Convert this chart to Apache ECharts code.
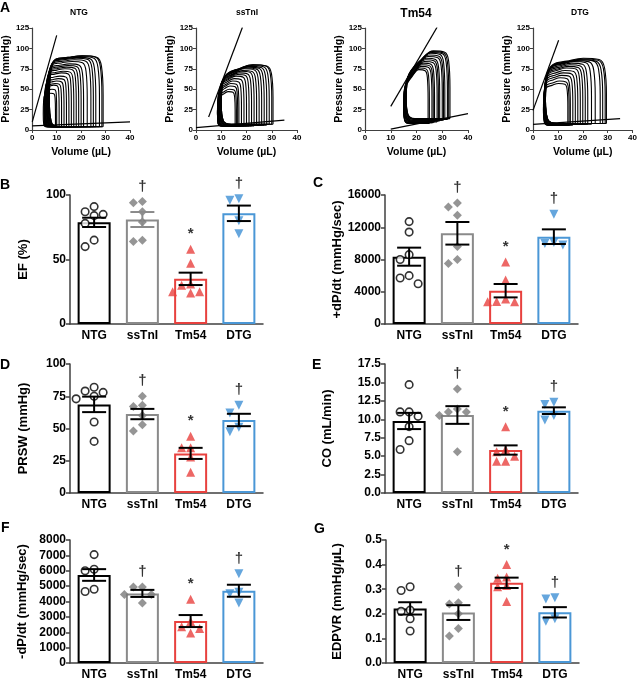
<!DOCTYPE html>
<html><head><meta charset="utf-8">
<script src="https://cdn.jsdelivr.net/npm/echarts/dist/echarts.min.js"></script>
<style>html,body{margin:0;padding:0;background:#fff}#c{width:640px;height:681px}</style>
</head><body><div id="c"></div>
<script>
// ---------------- DATA ----------------
const groups = ['NTG', 'ssTnI', 'Tm54', 'DTG'];
const pvTitles = ['NTG', 'ssTnI', 'Tm54', 'DTG'];
const pvVolTicks = [0, 10, 20, 30, 40];
const pvPresTicks = [0, 25, 50, 75, 100, 125];

// PV loops (per loop: end-diastolic volume, end-systolic volume, peak pressure, bottom pressure)
const ntgEDV = [29, 28.5, 27.5, 26, 25, 24, 22.5, 21, 20, 19, 18, 17, 16, 15, 14, 13, 12, 11, 10, 9.5];
const ntgESV = [7, 7, 6.8, 6.6, 6.5, 6.3, 6.2, 6, 6, 5.8, 5.8, 5.5, 5.5, 5.3, 5.2, 5, 5, 5, 4.8, 4.5];
const ntgPtop = [91, 91, 90, 89, 88, 86, 84, 81, 79, 77, 75, 72, 70, 66, 63, 60, 57, 55, 50, 45];
const ntgPbot = [4, 4, 4, 4, 4, 4, 4, 4, 4, 4, 4, 4, 4, 4, 4, 4, 4, 4, 4, 4];
const ntgESPVR = [[0, 10], [10, 116]];
const ntgEDPVR = [[0, 5], [40, 10]];

const sstEDV = [30.5, 30, 29, 28, 27, 26, 25, 24, 23, 22, 21, 20, 19, 18, 17, 16.5, 16, 15.5];
const sstESV = [10, 10, 10, 9.8, 9.8, 9.5, 9.5, 9.3, 9.3, 9, 9, 9, 8.8, 8.8, 8.5, 8.5, 8.5, 8.5];
const sstPtop = [80, 80, 79, 78, 77, 76, 75, 73, 72, 70, 68, 66, 63, 60, 57, 54, 50, 47];
const sstPbot = [7, 7, 7, 6, 6, 6, 6, 6, 5, 5, 5, 5, 5, 5, 5, 5, 5, 5];
const sstESPVR = [[5, 16], [18.4, 126]];
const sstEDPVR = [[0, 3], [35, 12]];

const tmEDV = [33, 32.5, 32, 31, 30.5, 30, 29, 28.5, 28, 27, 26.5, 26, 25, 24.5];
const tmESV = [16, 16, 16, 15.8, 15.8, 15.5, 15.5, 15.5, 15.3, 15.3, 15, 15, 15, 15];
const tmPtop = [97, 96, 95, 94, 92, 90, 88, 86, 84, 82, 80, 78, 76, 74];
const tmPbot = [14, 14, 13, 13, 12, 12, 11, 11, 10, 10, 9, 9, 8, 8];
const tmESPVR = [[10, 29], [28, 126]];
const tmEDPVR = [[10, 1], [40, 20]];

const dtgEDV = [29.5, 29, 28, 27, 25, 23.5, 22, 21, 20, 19, 18, 17, 16, 15, 14.5, 14];
const dtgESV = [5, 5, 5, 5, 4.8, 4.8, 4.6, 4.6, 4.5, 4.5, 4.4, 4.4, 4.3, 4.3, 4.2, 4.2];
const dtgPtop = [88, 87, 86, 86, 85, 84, 82, 80, 78, 76, 73, 70, 67, 64, 60, 57];
const dtgPbot = [8, 8, 8, 8, 8, 7, 7, 7, 7, 7, 7, 7, 6, 6, 6, 6];
const dtgESPVR = [[0, 24], [10.3, 110]];
const dtgEDPVR = [[0, 7], [35, 14]];

// B: EF (%)
const efTicks = [0, 50, 100];
const efMean = [78.8, 81, 35, 85.8];
const efSem = [3.6, 5.8, 4.8, 6.0];
const efPoints = [[91, 87, 85, 84, 78, 65, 60], [95, 94, 87, 79, 65, 64], [58, 47, 31, 30, 25, 25, 24], [97, 96, 80, 70]];
// C: +dP/dt
const dpTicks = [0, 4000, 8000, 12000, 16000];
const dpMean = [8350, 11250, 4130, 10830];
const dpSem = [1120, 1400, 830, 910];
const dpPoints = [[12700, 11400, 8600, 8000, 6000, 5700, 5000], [15000, 14500, 13500, 9600, 8000, 7500], [7700, 5450, 3100, 2800, 2750, 2750], [13600, 10100, 10000, 9800]];
// D: PRSW
const prTicks = [0, 25, 50, 75, 100];
const prMean = [68.7, 61.2, 30.7, 56.6];
const prSem = [6, 4, 4.3, 4.8];
const prPoints = [[82, 79, 78, 75, 73, 55, 40], [75, 68, 67, 60, 53, 48], [44, 35, 35, 28, 16], [68, 62, 51, 47.5]];
// E: CO
const coTicks = [0, 2.5, 5, 7.5, 10, 12.5, 15, 17.5];
const coMean = [9.77, 10.58, 5.83, 11.17];
const coSem = [1.1, 1.2, 0.63, 0.45];
const coPoints = [[14.7, 11.0, 11.0, 10.4, 9.0, 7.1, 5.9], [14.1, 11.4, 11.0, 11.0, 10.5, 5.6], [9.0, 5.9, 5.6, 5.0, 4.3, 4.3], [12.3, 12.0, 10.5, 9.9]];
// F: -dP/dt
const dnTicks = [0, 1000, 2000, 3000, 4000, 5000, 6000, 7000, 8000];
const dnMean = [5725, 4526, 2728, 4700];
const dnSem = [380, 230, 390, 390];
const dnPoints = [[7050, 6100, 6000, 4800, 4650], [4950, 4950, 4450, 4450, 3900], [4150, 2700, 2350, 2250, 1950], [5800, 4600, 4500, 3900]];
// G: EDPVR
const edTicks = [0, 0.1, 0.2, 0.3, 0.4, 0.5];
const edMean = [0.222, 0.205, 0.326, 0.206];
const edSem = [0.025, 0.03, 0.021, 0.021];
const edPoints = [[0.31, 0.295, 0.215, 0.21, 0.18, 0.13], [0.31, 0.245, 0.24, 0.2, 0.14, 0.11], [0.40, 0.35, 0.345, 0.315, 0.31, 0.25], [0.265, 0.26, 0.18, 0.17]];

const sigMarks = ['', '\u2020', '*', '\u2020'];

// ---------------- STYLE / LAYOUT ----------------
const FONT = 'Liberation Sans, Arial, sans-serif';
const BAR_COLORS = ['#000000', '#8a8a8a', '#e8413e', '#4a97d6'];
const MARK_COLORS = ['#000000', '#7a7a7a', '#e8413e', '#3f90d4'];
const SYMBOLS = ['circle', 'diamond', 'triangle', 'triangle'];
const AXIS_COLOR = '#404040';

// loop outline template; k = relative height of the end-systolic (top-left) corner
function loopShape(k) {
  return [[1, 0], [1, 0.45], [0.97, 0.85], [0.88, 0.98], [0.62, 1], [0.35, 1 - (1 - k) * 0.45],
    [0.12, k], [0.03, k * 0.82], [0, k * 0.4], [0.04, 0.06], [0.2, 0], [0.6, 0], [1, 0]];
}

const grids = [], xAxes = [], yAxes = [], series = [], graphics = [];

function pvPanel(box, loops, espvr, edpvr, k) {
  const g = grids.length;
  grids.push({left: box[0], top: box[1], width: box[2], height: box[3]});
  const xi = xAxes.length, yi = yAxes.length;
  xAxes.push({
    type: 'value', gridIndex: g, min: pvVolTicks[0], max: pvVolTicks[pvVolTicks.length - 1],
    interval: pvVolTicks[1] - pvVolTicks[0], splitLine: {show: false},
    axisLine: {onZero: false, lineStyle: {color: AXIS_COLOR, width: 1.2}}, axisTick: {length: 3, lineStyle: {color: AXIS_COLOR}},
    axisLabel: {color: '#000', fontWeight: 'bold', fontSize: 8, margin: 4, fontFamily: FONT},
    name: 'Volume (\u00b5L)', nameLocation: 'middle', nameGap: 17,
    nameTextStyle: {color: '#000', fontWeight: 'bold', fontSize: 10.5, fontFamily: FONT}
  });
  yAxes.push({
    type: 'value', gridIndex: g, min: pvPresTicks[0], max: pvPresTicks[pvPresTicks.length - 1],
    interval: pvPresTicks[1] - pvPresTicks[0], splitLine: {show: false},
    axisLine: {show: true, onZero: false, lineStyle: {color: AXIS_COLOR, width: 1.2}}, axisTick: {show: true, length: 3, lineStyle: {color: AXIS_COLOR}},
    axisLabel: {color: '#000', fontWeight: 'bold', fontSize: 8, margin: 3, fontFamily: FONT},
    name: 'Pressure (mmHg)', nameLocation: 'middle', nameGap: 16,
    nameTextStyle: {color: '#000', fontWeight: 'bold', fontSize: 10.5, fontFamily: FONT}
  });
  const [edv, esv, ptop, pbot] = loops;
  const shape = loopShape(k);
  for (let j = 0; j < edv.length; j++) {
    const data = shape.map(([u, v]) => [esv[j] + u * (edv[j] - esv[j]), pbot[j] + v * (ptop[j] - pbot[j])]);
    series.push({type: 'line', xAxisIndex: xi, yAxisIndex: yi, data, smooth: 0.4, symbol: 'none',
      lineStyle: {color: '#000', width: 1.1}, silent: true, animation: false});
  }
  [espvr, edpvr].forEach(d => series.push({type: 'line', xAxisIndex: xi, yAxisIndex: yi, data: d, symbol: 'none',
    lineStyle: {color: '#000', width: 1.2}, silent: true, animation: false}));
}

function swarmOffsets(vals, pxPerUnit) {
  const cands = [0, -9, 9, -18, 18, -27, 27];
  const placed = [];
  return vals.map(v => {
    const y = v * pxPerUnit;
    let chosen = cands[cands.length - 1];
    for (const c of cands) {
      if (placed.every(p => Math.hypot(p.x - c, p.y - y) >= 9)) { chosen = c; break; }
    }
    placed.push({x: chosen, y});
    return chosen;
  });
}

function barPanel(box, ticks, mean, sem, points, yName, nameGap, fmt, errColors) {
  const g = grids.length;
  grids.push({left: box[0], top: box[1], width: box[2], height: box[3]});
  const xc = xAxes.length;
  xAxes.push({
    type: 'category', gridIndex: g, data: groups,
    axisLine: {onZero: false, lineStyle: {color: AXIS_COLOR, width: 1.5}}, axisTick: {show: false},
    axisLabel: {color: '#000', fontWeight: 'bold', fontSize: 12, margin: 6, fontFamily: FONT}
  });
  const xv = xAxes.length;
  xAxes.push({type: 'value', gridIndex: g, min: -0.5, max: groups.length - 0.5, show: false});
  const yi = yAxes.length;
  const tmin = ticks[0], tmax = ticks[ticks.length - 1];
  yAxes.push({
    type: 'value', gridIndex: g, min: tmin, max: tmax, interval: ticks[1] - ticks[0], splitLine: {show: false},
    axisLine: {show: true, onZero: false, lineStyle: {color: AXIS_COLOR, width: 1.5}},
    axisTick: {show: true, length: 4, lineStyle: {color: AXIS_COLOR, width: 1.5}},
    axisLabel: {color: '#000', fontWeight: 'bold', fontSize: 12, margin: 4, fontFamily: FONT, formatter: fmt},
    name: yName, nameLocation: 'middle', nameGap,
    nameTextStyle: {color: '#000', fontWeight: 'bold', fontSize: 13, fontFamily: FONT}
  });
  // bars
  series.push({
    type: 'bar', xAxisIndex: xc, yAxisIndex: yi, barWidth: 33, z: 2, animation: false, silent: true,
    data: mean.map((v, i) => ({value: v, itemStyle: {color: '#ffffff', borderColor: BAR_COLORS[i], borderWidth: 2}}))
  });
  // points
  const pxPerUnit = box[3] / (tmax - tmin);
  const catPx = box[2] / groups.length;
  points.forEach((vals, i) => {
    const offs = swarmOffsets(vals, pxPerUnit);
    const isOpen = i === 0;
    series.push({
      type: 'scatter', xAxisIndex: xv, yAxisIndex: yi, z: 3, animation: false, silent: true,
      symbol: SYMBOLS[i], symbolSize: isOpen ? 7.5 : 9, symbolRotate: i === 3 ? 180 : 0,
      itemStyle: isOpen ? {color: '#ffffff', borderColor: '#000', borderWidth: 1.6} : {color: MARK_COLORS[i]},
      data: vals.map((v, k) => [i + offs[k] / catPx, v])
    });
  });
  // error bars (mean +/- SEM)
  series.push({
    type: 'custom', xAxisIndex: xv, yAxisIndex: yi, z: 4, animation: false, silent: true,
    encode: {x: 0, y: 1},
    data: mean.map((m, i) => [i, m, sem[i]]),
    renderItem: (params, api) => {
      const x = api.value(0), m = api.value(1), s = api.value(2);
      const t = api.coord([x, m + s]), b = api.coord([x, m - s]);
      const hw = 12;
      const st = {stroke: errColors[params.dataIndex], lineWidth: 2};
      return {type: 'group', children: [
        {type: 'line', shape: {x1: t[0], y1: t[1], x2: b[0], y2: b[1]}, style: st},
        {type: 'line', shape: {x1: t[0] - hw, y1: t[1], x2: t[0] + hw, y2: t[1]}, style: st},
        {type: 'line', shape: {x1: b[0] - hw, y1: b[1], x2: b[0] + hw, y2: b[1]}, style: st}
      ]};
    }
  });
  // significance marks
  series.push({
    type: 'scatter', xAxisIndex: xv, yAxisIndex: yi, z: 5, animation: false, silent: true,
    symbolSize: 1, itemStyle: {color: 'rgba(0,0,0,0)'},
    data: points.map((vals, i) => ({value: [i, Math.max(...vals)], name: sigMarks[i]})).filter(d => d.name),
    label: {
      show: true, position: 'inside', formatter: p => p.name,
      offset: [0, -15], color: '#000', fontWeight: 'bold', fontSize: 15, fontFamily: FONT
    }
  });
}

function txt(x, y, s, size, align) {
  graphics.push({type: 'text', x, y, style: {text: s, fill: '#000', font: 'bold ' + size + 'px ' + FONT,
    textAlign: align || 'left', textVerticalAlign: 'middle'}});
}

// ---------------- BUILD ----------------
pvPanel([28, 28, 102, 102], [ntgEDV, ntgESV, ntgPtop, ntgPbot], ntgESPVR, ntgEDPVR, 0.95);
pvPanel([196, 28, 101, 102], [sstEDV, sstESV, sstPtop, sstPbot], sstESPVR, sstEDPVR, 0.85);
pvPanel([365, 28, 103, 102], [tmEDV, tmESV, tmPtop, tmPbot], tmESPVR, tmEDPVR, 0.72);
pvPanel([533, 28, 101, 102], [dtgEDV, dtgESV, dtgPtop, dtgPbot], dtgESPVR, dtgEDPVR, 0.9);

const BLACK = ['#000', '#000', '#000', '#000'];
barPanel([70, 195, 193, 129], efTicks, efMean, efSem, efPoints, 'EF (%)', 40, v => v, ['#000', '#8a8a8a', '#000', '#000']);
barPanel([385, 195, 193, 129], dpTicks, dpMean, dpSem, dpPoints, '+dP/dt (mmHg/sec)', 40, v => v, BLACK);
barPanel([70, 364, 193, 129], prTicks, prMean, prSem, prPoints, 'PRSW (mmHg)', 40, v => v, BLACK);
barPanel([385, 364, 193, 129], coTicks, coMean, coSem, coPoints, 'CO (mL/min)', 51, v => v.toFixed(1), BLACK);
barPanel([70, 540, 193, 129], dnTicks, dnMean, dnSem, dnPoints, '-dP/dt (mmHg/sec)', 41, v => v, BLACK);
barPanel([386, 540, 193, 129], edTicks, edMean, edSem, edPoints, 'EDPVR (mmHg/\u00b5L)', 42, v => v.toFixed(1), BLACK);

// panel letters and PV titles
txt(0, 8, 'A', 14); txt(0, 185, 'B', 14); txt(313, 183.5, 'C', 14);
txt(0, 365, 'D', 14); txt(312, 365, 'E', 14); txt(1, 528, 'F', 14); txt(314, 529, 'G', 14);
txt(79, 13, pvTitles[0], 8.5, 'center'); txt(247, 13, pvTitles[1], 8.5, 'center');
txt(416, 13.5, pvTitles[2], 12, 'center'); txt(580, 13, pvTitles[3], 8.5, 'center');

const chart = echarts.init(document.getElementById('c'), null, {renderer: 'canvas'});
chart.setOption({
  animation: false,
  textStyle: {fontFamily: FONT},
  grid: grids, xAxis: xAxes, yAxis: yAxes, series,
  graphic: graphics
});
</script></body></html>
